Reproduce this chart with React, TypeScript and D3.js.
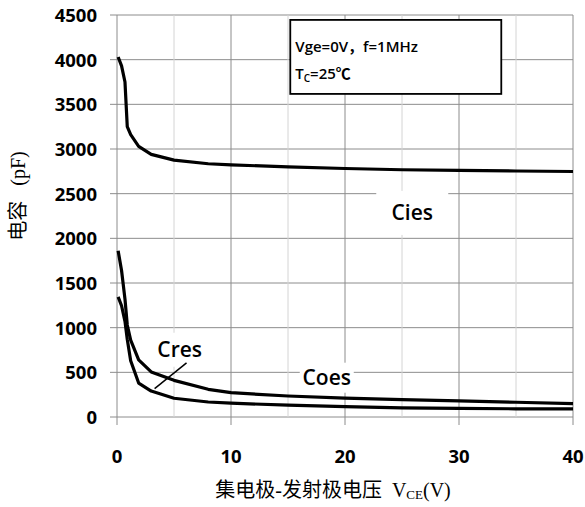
import { useEffect, useRef } from 'react';
import * as d3 from 'd3';

// V_CE sample points (V) and capacitances (pF)
const vce = [0.1, 0.4, 0.7, 0.9, 1.2, 1.9, 3, 5, 8, 10, 15, 20, 25, 30, 35, 40];
const cies = [4030, 3930, 3750, 3250, 3160, 3030, 2940, 2875, 2835, 2822, 2800, 2782, 2768, 2760, 2754, 2748];
const coes = [1860, 1640, 1320, 1030, 860, 640, 505, 410, 310, 272, 235, 212, 195, 180, 165, 150];
const cres = [1345, 1245, 1070, 870, 630, 380, 290, 210, 168, 155, 132, 117, 103, 96, 92, 90];

const xTicks = [0, 10, 20, 30, 40];
const xGrid = [5, 10, 15, 20, 25, 30, 35, 40];
const yTicks = [0, 500, 1000, 1500, 2000, 2500, 3000, 3500, 4000, 4500];

const seriesLabels = [
  { name: 'Cies', v: 25.9, c: 2285, w: 72, h: 44 },
  { name: 'Coes', v: 18.4, c: 440, w: 54, h: 30 },
  { name: 'Cres', v: 5.5, c: 753, w: 58, h: 34 },
];

export default function App() {
  const ref = useRef<SVGSVGElement | null>(null);

  useEffect(() => {
    if (!ref.current) return;
    const width = 585;
    const height = 507;
    const margin = { top: 15, right: 12, bottom: 90, left: 117 };
    const innerW = width - margin.left - margin.right;
    const innerH = height - margin.top - margin.bottom;

    const svgRoot = d3.select(ref.current);
    svgRoot.selectAll('*').remove();
    svgRoot.attr('width', width).attr('height', height);
    svgRoot.append('rect').attr('width', width).attr('height', height).attr('fill', '#fff');

    const svg = svgRoot.append('g').attr('transform', `translate(${margin.left},${margin.top})`);

    const x = d3.scaleLinear().domain([0, 40]).range([0, innerW]);
    const y = d3.scaleLinear().domain([0, 4500]).range([innerH, 0]);

    const tickFont = '"Open Sans", "Liberation Sans", sans-serif';

    // horizontal grid
    svg
      .selectAll('line.hgrid')
      .data(yTicks)
      .join('line')
      .attr('x1', -7)
      .attr('x2', innerW)
      .attr('y1', d => y(d))
      .attr('y2', d => y(d))
      .attr('stroke', '#8c8c8c')
      .attr('stroke-width', 1);

    // vertical grid
    svg
      .selectAll('line.vgrid')
      .data(xGrid)
      .join('line')
      .attr('x1', d => x(d))
      .attr('x2', d => x(d))
      .attr('y1', 0)
      .attr('y2', d => (d % 10 === 0 ? innerH + 8 : innerH))
      .attr('stroke', d => (d % 10 === 0 ? '#8c8c8c' : '#d4d4d4'))
      .attr('stroke-width', 1);

    // left axis
    svg
      .append('line')
      .attr('x1', 0)
      .attr('x2', 0)
      .attr('y1', 0)
      .attr('y2', innerH + 8)
      .attr('stroke', '#8c8c8c');

    // white label backgrounds
    seriesLabels.forEach(l => {
      svg
        .append('rect')
        .attr('x', x(l.v) - l.w / 2)
        .attr('y', y(l.c) - l.h / 2)
        .attr('width', l.w)
        .attr('height', l.h)
        .attr('fill', '#fff');
    });

    // tick labels
    svg
      .selectAll('text.ytick')
      .data(yTicks)
      .join('text')
      .attr('x', -20)
      .attr('y', d => y(d) + 7)
      .attr('text-anchor', 'end')
      .attr('font-family', tickFont)
      .attr('font-weight', 'bold')
      .attr('font-size', 18.5)
      .text(d => d);

    svg
      .selectAll('text.xtick')
      .data(xTicks)
      .join('text')
      .attr('x', d => x(d))
      .attr('y', innerH + 46)
      .attr('text-anchor', 'middle')
      .attr('font-family', tickFont)
      .attr('font-weight', 'bold')
      .attr('font-size', 18.5)
      .text(d => d);

    // curves
    const line = d3
      .line<number>()
      .x((_, i) => x(vce[i]))
      .y(d => y(d));

    [cies, coes, cres].forEach(s => {
      svg
        .append('path')
        .datum(s)
        .attr('fill', 'none')
        .attr('stroke', '#000')
        .attr('stroke-width', 3.2)
        .attr('stroke-linejoin', 'round')
        .attr('d', line);
    });

    // series labels
    seriesLabels.forEach(l => {
      svg
        .append('text')
        .attr('x', x(l.v))
        .attr('y', y(l.c) + 7)
        .attr('text-anchor', 'middle')
        .attr('font-family', tickFont)
        .attr('font-weight', 600)
        .attr('font-size', 21)
        .text(l.name);
    });

    // Cres leader line
    svg
      .append('line')
      .attr('x1', x(3.3))
      .attr('y1', y(318))
      .attr('x2', x(6.1))
      .attr('y2', y(605))
      .attr('stroke', '#000')
      .attr('stroke-width', 1.5);

    // condition box
    const box = svg.append('g').attr('transform', `translate(${x(15.2)},${y(4445)})`);
    box
      .append('rect')
      .attr('width', 211)
      .attr('height', 74)
      .attr('fill', '#fff')
      .attr('stroke', '#000')
      .attr('stroke-width', 1.8);
    box
      .append('text')
      .attr('x', 5)
      .attr('y', 32)
      .attr('font-family', `${tickFont}, "Noto Sans CJK SC"`)
      .attr('font-weight', 600)
      .attr('font-size', 15)
      .text('Vge=0V，f=1MHz');
    const t2 = box
      .append('text')
      .attr('x', 5)
      .attr('y', 59)
      .attr('font-family', `${tickFont}, "Noto Sans CJK SC"`)
      .attr('font-weight', 600)
      .attr('font-size', 15);
    t2.append('tspan').text('T');
    t2.append('tspan').attr('font-size', 10).attr('dy', 3).text('C');
    t2.append('tspan').attr('dy', -3).text('=25℃');

    // axis titles
    const serif = '"Liberation Serif", "DejaVu Serif", "Noto Sans CJK SC", serif';
    const xt = svg
      .append('text')
      .attr('x', innerW / 2 - 12)
      .attr('y', innerH + 80)
      .attr('text-anchor', 'middle')
      .attr('font-family', serif)
      .attr('font-size', 20);
    xt.append('tspan').text('集电极-发射极电压\u00a0\u00a0V');
    xt.append('tspan').attr('font-size', 13).attr('dy', 2).text('CE');
    xt.append('tspan').attr('dy', -2).text('(V)');

    svgRoot
      .append('text')
      .attr('transform', `translate(25,196) rotate(-90)`)
      .attr('text-anchor', 'middle')
      .attr('font-family', serif)
      .attr('font-size', 20)
      .text('电容\u00a0\u00a0\u00a0(pF)');
  }, []);

  return <svg ref={ref} style={{ position: 'absolute', left: 0, top: 0, display: 'block' }} />;
}
